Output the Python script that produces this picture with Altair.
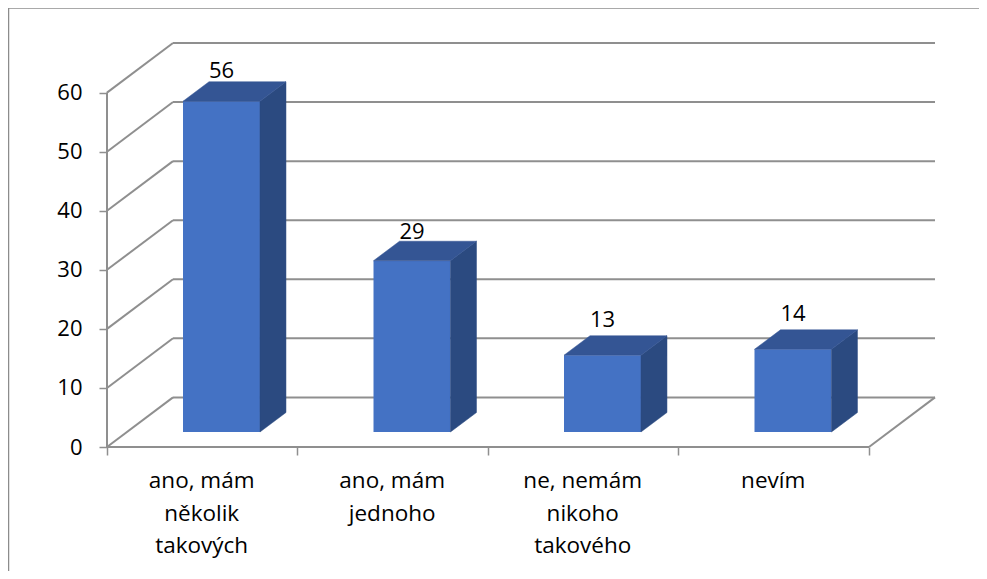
import altair as alt
import pandas as pd

categories = ["ano, mám\nněkolik\ntakových", "ano, mám\njednoho", "ne, nemám\nnikoho\ntakového", "nevím"]
values = [56, 29, 13, 14]
label_lift = [1.8, 1.6, 2.7, 2.6]
y_ticks = [0, 10, 20, 30, 40, 50, 60]
x_ticks = [0, 1, 2, 3, 4]

# 3-D projection, in axis units
WALL_DX, WALL_DY = 0.3465, 8.4
BAR_L, BAR_W = 0.399, 0.404
BAR_DX, BAR_DY = 0.1365, 3.3
BASE = 2.54
XMAX, YMAX = 4 + WALL_DX, 60 + WALL_DY
GRID = "#8f8f8f"
FONT = "Open Sans"

xs = alt.Scale(domain=[0, XMAX], nice=False, zero=False)
ys = alt.Scale(domain=[0, YMAX], nice=False, zero=False)
x_axis = alt.Axis(values=x_ticks, title=None, domain=False, grid=False, labels=False,
                  tickColor=GRID, tickWidth=1.5, tickSize=8)
y_axis = alt.Axis(values=y_ticks, title=None, domain=False, grid=False, tickColor=GRID,
                  tickWidth=1.5, tickSize=8, labelFont=FONT, labelFontSize=22,
                  labelColor="#000000", labelPadding=17)
X = alt.X("x:Q", scale=xs, axis=x_axis)
Y = alt.Y("y:Q", scale=ys, axis=y_axis)

# wall, floor and axis lines
lines = []
for v in y_ticks:
    lines.append(dict(x=WALL_DX, x2=XMAX, y=v + WALL_DY, y2=v + WALL_DY))
    lines.append(dict(x=0, x2=WALL_DX, y=v, y2=v + WALL_DY))
lines.append(dict(x=0, x2=0, y=0, y2=60))
lines.append(dict(x=0, x2=4, y=0, y2=0))
lines.append(dict(x=4, x2=XMAX, y=0, y2=WALL_DY))
grid = alt.Chart(pd.DataFrame(lines)).mark_rule(color=GRID, strokeWidth=2).encode(
    x=X, x2="x2:Q", y=Y, y2="y2:Q")

# bars
front, top, side = [], [], []
for i, (c, v) in enumerate(zip(categories, values)):
    l = i + BAR_L
    r = l + BAR_W
    b = BASE
    t = BASE + v
    front.append(dict(x=l, x2=r, y=b, y2=t, cat=i))
    top.append(dict(y=t, x=l, x2=r, cat=i))
    top.append(dict(y=t + BAR_DY, x=l + BAR_DX, x2=r + BAR_DX, cat=i))
    side.append(dict(x=r, y=b, y2=t, cat=i))
    side.append(dict(x=r + BAR_DX, y=b + BAR_DY, y2=t + BAR_DY, cat=i))

front_m = alt.Chart(pd.DataFrame(front)).mark_rect(color="#4472c4").encode(
    x=X, x2="x2:Q", y=Y, y2="y2:Q")
top_m = alt.Chart(pd.DataFrame(top)).mark_area(
    color="#345594", orient="horizontal", stroke="#345594", strokeWidth=0.5
).encode(y=Y, x=X, x2="x2:Q", detail="cat:N")
side_m = alt.Chart(pd.DataFrame(side)).mark_area(
    color="#2b4a80", orient="vertical", stroke="#2b4a80", strokeWidth=0.5
).encode(x=X, y=Y, y2="y2:Q", detail="cat:N")

# value labels and category labels
val_df = pd.DataFrame({
    "x": [i + BAR_L + BAR_W / 2 for i in range(len(values))],
    "y": [BASE + v + BAR_DY + k for v, k in zip(values, label_lift)],
    "t": [str(v) for v in values],
})
val_m = alt.Chart(val_df).mark_text(font=FONT, fontSize=22, color="#000000").encode(
    x=X, y=Y, text="t:N")

cat_df = pd.DataFrame({"x": [i + 0.497 for i in range(len(categories))], "t": categories})
cat_m = alt.Chart(cat_df).mark_text(
    font=FONT, fontSize=22.5, color="#000000", lineBreak="\n", lineHeight=32.5, baseline="top", align="center"
).encode(x=X, y=alt.value(427), text="t:N")

# frame of the picture
frame_m = alt.Chart(pd.DataFrame({"a": [0]})).mark_rule(color="#8c8c8c", strokeWidth=1.5).encode(
    x=alt.value(-98.5), x2=alt.value(880), y=alt.value(-35), y2=alt.value(-35))
frame_l = alt.Chart(pd.DataFrame({"a": [0]})).mark_rule(color="#8c8c8c", strokeWidth=1.5).encode(
    x=alt.value(-98.5), y=alt.value(-35), y2=alt.value(528))

chart = alt.layer(
    frame_m, frame_l, grid, front_m, side_m, top_m, val_m, cat_m
).properties(
    width=828, height=404, background="#ffffff",
    padding={"left": 99, "top": 35, "right": 44, "bottom": 124},
    autosize=alt.AutoSizeParams(type="none"),
).configure_view(stroke=None)

chart.save("out.html", embed_options={"renderer": "svg", "actions": False})
